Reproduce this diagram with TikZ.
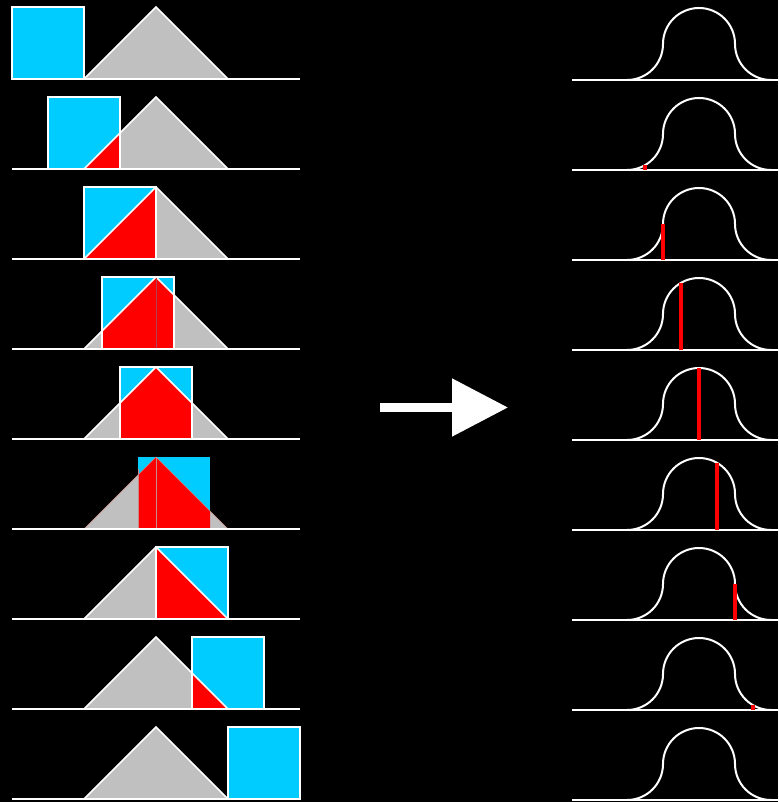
\documentclass[tikz,border=0pt]{standalone}
\usetikzlibrary{arrows.meta}
\definecolor{sqcyan}{HTML}{00CCFF}
\definecolor{trigray}{HTML}{C0C0C0}
\definecolor{ovred}{HTML}{FF0000}
\definecolor{thinpink}{HTML}{C88C8C}
\definecolor{apexline}{HTML}{B04050}
\begin{document}
\begin{tikzpicture}[x=1pt,y=1pt,
  outl/.style={draw=white, line width=1.5pt, line join=miter},
  thinoutl/.style={draw=thinpink, line width=0.5pt},
  baseln/.style={draw=white, line width=2pt},
  bell/.style={draw=white, line width=2pt},
  marker/.style={draw=ovred, line width=4pt},
  arrowshape/.style={draw=white, line width=8.5pt, -{Triangle[length=56pt,width=56pt]}}
]
\fill[black] (0,0) rectangle (778,802);
\useasboundingbox (0,0) rectangle (778,802);

% left column: square sliding over the triangle
\foreach \k/\s in {0/12,1/48,2/84,3/102,4/120,5/138,6/156,7/192,8/228}{
  \pgfmathsetmacro\by{723-90*\k}
  \begin{scope}[shift={(0,\by)}]
    \fill[trigray] (84,0) -- (156,72) -- (228,0) -- cycle;
    \fill[sqcyan] (\s,0) rectangle ++(72,72);
    \begin{scope}
      \clip (\s,0) rectangle ++(72,72);
      \fill[ovred] (84,0) -- (156,72) -- (228,0) -- cycle;
    \end{scope}
    \ifnum\k=5
      \draw[thinoutl] (84,0) -- (156,72) -- (228,0);
      \draw[thinoutl] (\s,0) -- (\s,60);
      \draw[thinoutl] (156,0) -- (156,72);
    \else
      \draw[outl] (\s,0) rectangle ++(72,72);
      \draw[outl] (84,0) -- (156,72) -- (228,0);
      \ifnum\k=3
        \draw[apexline, line width=0.6pt] (156,1) -- (156,71);
      \fi
    \fi
    \draw[baseln] (12,0) -- (300,0);
  \end{scope}
}

% right column: the resulting curve
\foreach \k in {0,...,8}{
  \pgfmathsetmacro\by{722-90*\k}
  \begin{scope}[shift={(0,\by)}]
    \draw[baseln] (572,0) -- (778,0);
    \draw[bell] (627,0) arc[start angle=-90, end angle=0, radius=36]
      arc[start angle=180, end angle=0, radius=36]
      arc[start angle=180, end angle=270, radius=36];
  \end{scope}
}

% red markers at the current position
\foreach \k/\d/\h in {1/-54/4.82,2/-36/36,3/-18/67.18,4/0/72,5/18/67.18,6/36/36,7/54/4.82}{
  \pgfmathsetmacro\by{722-90*\k}
  \begin{scope}[shift={(0,\by)}]
    \draw[marker] (699+\d,0) -- (699+\d,\h);
  \end{scope}
}

% arrow
\coordinate (arrowtail) at (380,394.5);
\coordinate (arrowtip) at (508,394.5);
\draw[arrowshape] (arrowtail) -- (arrowtip);
\end{tikzpicture}
\end{document}
